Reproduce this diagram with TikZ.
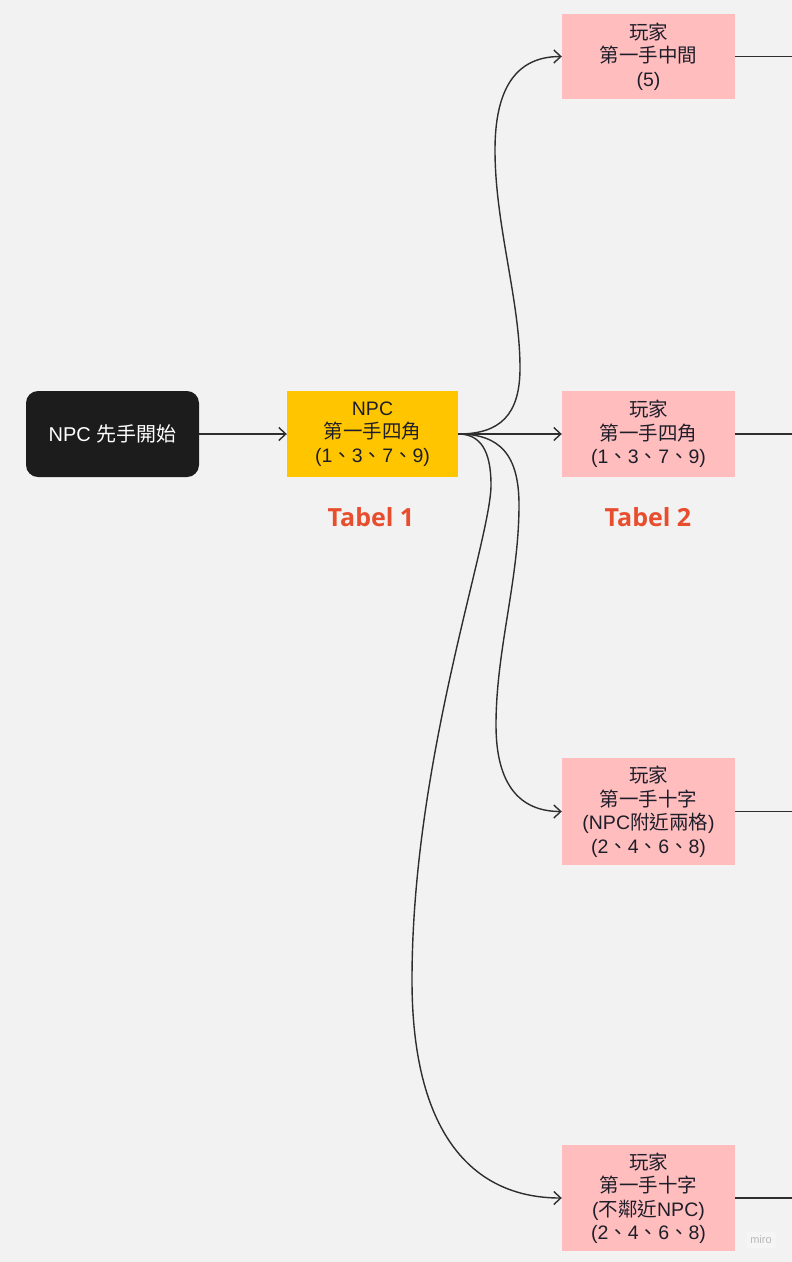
\documentclass[tikz,border=0pt]{standalone}
\usepackage{fontspec}
\setmainfont{Liberation Sans}
\newfontfamily\zhfont{Noto Sans CJK TC}
\newfontfamily\tabfont{Open Sans}
\newcommand\zh[1]{{\zhfont #1}}
\usetikzlibrary{arrows.meta}
\definecolor{bg}{HTML}{F2F2F2}
\definecolor{blackbox}{HTML}{1C1C1C}
\definecolor{yellowbox}{HTML}{FFC600}
\definecolor{pinkbox}{HTML}{FFBDBE}
\definecolor{linec}{HTML}{2E2E2E}
\definecolor{tabred}{HTML}{E84E2D}
\definecolor{txt}{HTML}{1E1E2A}
\definecolor{mirotxt}{HTML}{B8B8B8}
\tikzset{
  box/.style={rectangle, inner sep=0pt, align=center, text=txt,
    font=\fontsize{19.5}{23.5}\selectfont},
  startbox/.style={box, fill=blackbox, rounded corners=12pt, text=white,
    minimum width=173pt, minimum height=86pt, font=\fontsize{20}{24}\selectfont},
  npcbox/.style={box, fill=yellowbox, minimum width=171pt, minimum height=86pt},
  playerbox/.style={box, fill=pinkbox, minimum width=173pt},
  tablabel/.style={text=tabred, font=\tabfont\bfseries\fontsize{25}{28}\selectfont},
  conn/.style={draw=linec, line width=1.4pt},
  arr/.style={conn, -{Straight Barb[length=7pt,width=13pt]}},
}
\begin{document}
\begin{tikzpicture}[x=1pt,y=-1pt]
\path[fill=bg] (0,0) rectangle (792,1262);
\useasboundingbox (0,0) rectangle (792,1262);

\node[startbox] (S) at (112.5,434) {NPC \zh{先手開始}};
\node[npcbox] (Y) at (372.5,434) {NPC\\\zh{第一手四角}\\(1\zh{、}3\zh{、}7\zh{、}9)};
\node[playerbox, minimum height=85pt] (P1) at (648.5,56.5) {\zh{玩家}\\\zh{第一手中間}\\(5)};
\node[playerbox, minimum height=86pt] (P2) at (648.5,434) {\zh{玩家}\\\zh{第一手四角}\\(1\zh{、}3\zh{、}7\zh{、}9)};
\node[playerbox, minimum height=107pt] (P3) at (648.5,811.5) {\zh{玩家}\\\zh{第一手十字}\\(NPC\zh{附近兩格})\\(2\zh{、}4\zh{、}6\zh{、}8)};
\node[playerbox, minimum height=106pt] (P4) at (648.5,1198) {\zh{玩家}\\\zh{第一手十字}\\(\zh{不鄰近}NPC)\\(2\zh{、}4\zh{、}6\zh{、}8)};

\node[tablabel] (T1) at (371,517) {Tabel 1};
\node[tablabel] (T2) at (648,517) {Tabel 2};

\node[fill=white, fill opacity=0.3, text opacity=1, text=mirotxt, rounded corners=2pt,
  font=\fontsize{11}{12}\selectfont, inner sep=4pt] (M) at (761,1240) {miro};

\coordinate (E1) at (792,56.5);
\coordinate (E2) at (792,434);
\coordinate (E3) at (792,811.5);
\coordinate (E4) at (792,1198);

\draw[arr] (S.east) -- (Y.west);
\draw[arr] (Y.east) -- (P2.west);
\draw[arr] (Y.east) .. controls (500,434) and (520,415) .. (520,368)
  .. controls (520,300) and (495,225) .. (495,150)
  .. controls (495,90) and (515,56.5) .. (P1.west);
\draw[arr] (Y.east) .. controls (500,434) and (519,455) .. (519,505)
  .. controls (519,580) and (496,650) .. (496,725)
  .. controls (496,785) and (520,811.5) .. (P3.west);
\draw[arr] (Y.east) .. controls (480,434) and (491,450) .. (491,485)
  .. controls (491,540) and (412,760) .. (412,980)
  .. controls (412,1130) and (470,1198) .. (P4.west);

\draw[conn] (P1.east) -- (E1);
\draw[conn] (P2.east) -- (E2);
\draw[conn] (P3.east) -- (E3);
\draw[conn] (P4.east) -- (E4);
\end{tikzpicture}
\end{document}
